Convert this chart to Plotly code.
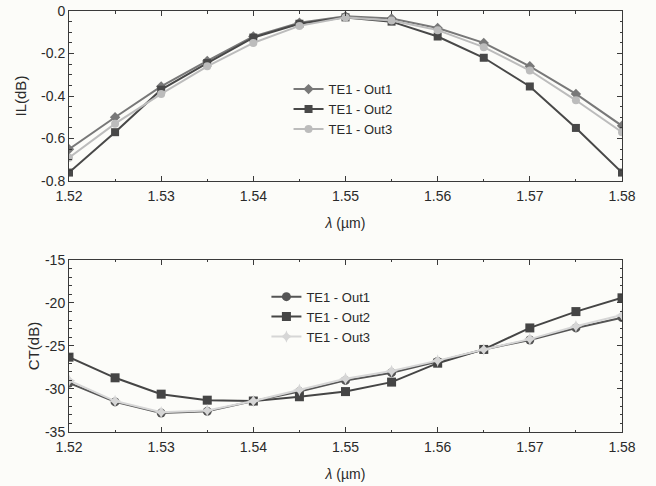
import plotly.graph_objects as go

wavelength = [1.52, 1.525, 1.53, 1.535, 1.54, 1.545, 1.55, 1.555, 1.56, 1.565, 1.57, 1.575, 1.58]

il_out1 = [-0.65, -0.50, -0.355, -0.235, -0.12, -0.055, -0.025, -0.035, -0.08, -0.15, -0.26, -0.39, -0.54]
il_out2 = [-0.76, -0.57, -0.37, -0.245, -0.125, -0.06, -0.03, -0.05, -0.12, -0.22, -0.355, -0.55, -0.76]
il_out3 = [-0.69, -0.53, -0.39, -0.26, -0.15, -0.07, -0.03, -0.045, -0.09, -0.17, -0.28, -0.42, -0.57]

ct_out1 = [-29.3, -31.5, -32.8, -32.6, -31.4, -30.3, -29.0, -28.1, -26.8, -25.4, -24.3, -22.9, -21.7]
ct_out2 = [-26.3, -28.7, -30.6, -31.3, -31.4, -30.9, -30.3, -29.2, -27.0, -25.4, -22.9, -21.0, -19.4]
ct_out3 = [-29.0, -31.4, -32.7, -32.5, -31.4, -30.1, -28.8, -27.9, -26.7, -25.4, -24.2, -22.7, -21.4]

names = ["TE1 - Out1", "TE1 - Out2", "TE1 - Out3"]
x_ticks = [1.52, 1.53, 1.54, 1.55, 1.56, 1.57, 1.58]
il_ticks = [0, -0.2, -0.4, -0.6, -0.8]
ct_ticks = [-15, -20, -25, -30, -35]

fig = go.Figure()

top_styles = [("#787878", "diamond"), ("#484848", "square"), ("#bcbcbc", "circle")]
for ys, nm, (c, m) in zip([il_out1, il_out2, il_out3], names, top_styles):
    fig.add_trace(go.Scatter(x=wavelength, y=ys, name=nm, mode="lines+markers",
                             line=dict(color=c, width=2), marker=dict(color=c, symbol=m, size=8),
                             xaxis="x", yaxis="y", legend="legend"))

bot_styles = [("#555555", "circle"), ("#454545", "square"), ("#d6d6d6", "star-diamond")]
for ys, nm, (c, m) in zip([ct_out1, ct_out2, ct_out3], names, bot_styles):
    fig.add_trace(go.Scatter(x=wavelength, y=ys, name=nm, mode="lines+markers",
                             line=dict(color=c, width=2), marker=dict(color=c, symbol=m, size=9),
                             xaxis="x2", yaxis="y2", legend="legend2"))

axis_common = dict(showline=True, linecolor="#3a3a3a", linewidth=1, mirror="allticks",
                   ticks="inside", ticklen=5, tickcolor="#3a3a3a", showgrid=False, zeroline=False,
                   automargin=False,
                   tickfont=dict(size=14, color="#2a2a2a"),
                   minor=dict(ticks="inside", ticklen=2.5, tickcolor="#3a3a3a", nticks=5))

fig.update_layout(
    width=656, height=486,
    margin=dict(l=69, r=34, t=11, b=54),
    paper_bgcolor="#fcfcf9", plot_bgcolor="#fcfcf9",
    font=dict(family="Liberation Sans, Arial, sans-serif", color="#2a2a2a", size=13),
    showlegend=True,
    xaxis=dict(domain=[0, 1], anchor="y", range=[1.52, 1.58], tickvals=x_ticks,
               ticktext=[f"{v:.2f}" for v in x_ticks], ticklabelstandoff=2,
               title=dict(text="<i>λ</i> (µm)", standoff=15, font=dict(size=14)), **axis_common),
    yaxis=dict(domain=[0.596, 1.0], anchor="x", range=[-0.8, 0], tickvals=il_ticks,
               ticktext=["0", "-0.2", "-0.4", "-0.6", "-0.8"],
               title=dict(text="IL(dB)", standoff=10, font=dict(size=15)), **axis_common),
    xaxis2=dict(domain=[0, 1], anchor="y2", range=[1.52, 1.58], tickvals=x_ticks,
                ticktext=[f"{v:.2f}" for v in x_ticks], ticklabelstandoff=2,
                title=dict(text="<i>λ</i> (µm)", standoff=15, font=dict(size=14)), **axis_common),
    yaxis2=dict(domain=[0, 0.4086], anchor="x2", range=[-35, -15], tickvals=ct_ticks,
                ticktext=[str(v) for v in ct_ticks],
                title=dict(text="CT(dB)", standoff=1, font=dict(size=15)), **axis_common),
    legend=dict(x=0.397, y=0.85, xanchor="left", yanchor="top", bgcolor="rgba(0,0,0,0)",
                font=dict(size=13), tracegroupgap=0, itemwidth=30),
    legend2=dict(x=0.357, y=0.357, xanchor="left", yanchor="top", bgcolor="rgba(0,0,0,0)",
                 font=dict(size=13), tracegroupgap=0, itemwidth=30),
)

# remove the default 8px page margin so the figure fills the window exactly
fig.write_html("out.html", config={"displayModeBar": False},
               post_script="document.body.style.margin='0';document.body.style.overflow='hidden';")
